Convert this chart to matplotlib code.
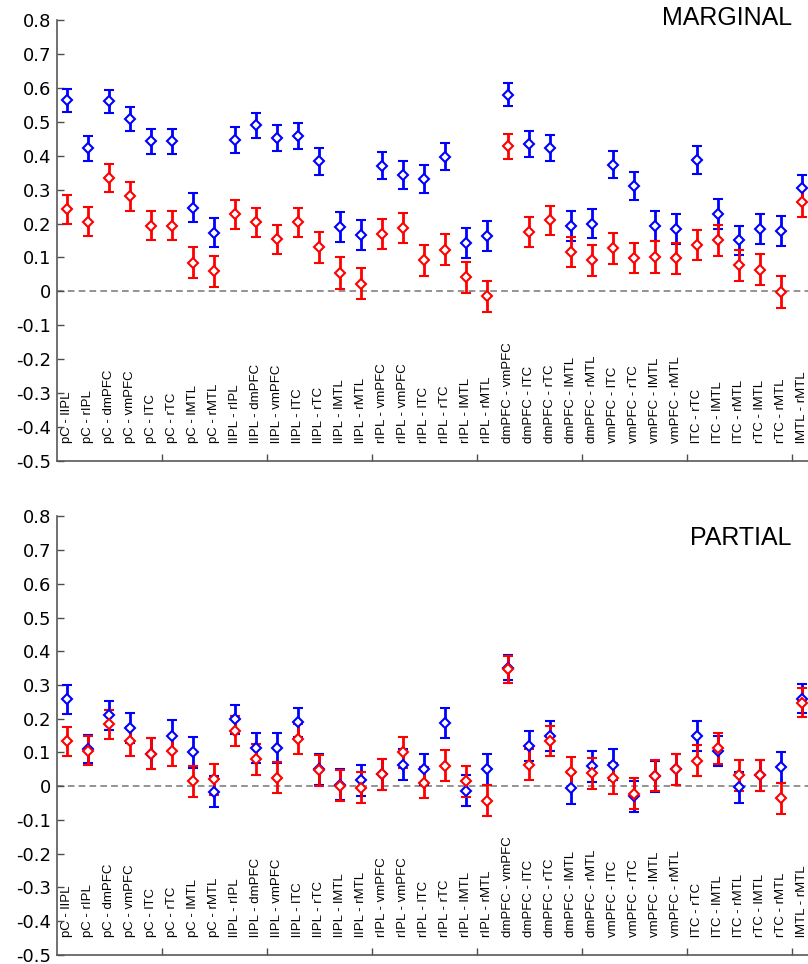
# marginal and partial connectivity estimates for 36 region pairs
import matplotlib

matplotlib.use('Agg')
import matplotlib.pyplot as plt

# pair labels
pairs = ['pC - lIPL', 'pC - rIPL', 'pC - dmPFC', 'pC - vmPFC', 'pC - lTC', 'pC - rTC',
         'pC - lMTL', 'pC - rMTL', 'lIPL - rIPL', 'lIPL - dmPFC', 'lIPL - vmPFC',
         'lIPL - lTC', 'lIPL - rTC', 'lIPL - lMTL', 'lIPL - rMTL', 'rIPL - vmPFC',
         'rIPL - vmPFC', 'rIPL - lTC', 'rIPL - rTC', 'rIPL - lMTL', 'rIPL - rMTL',
         'dmPFC - vmPFC', 'dmPFC - lTC', 'dmPFC - rTC', 'dmPFC - lMTL', 'dmPFC - rMTL',
         'vmPFC - lTC', 'vmPFC - rTC', 'vmPFC - lMTL', 'vmPFC - rMTL', 'lTC - rTC',
         'lTC - lMTL', 'lTC - rMTL', 'rTC - lMTL', 'rTC - rMTL', 'lMTL - rMTL']

# MARGINAL panel
marg_blue = [0.563, 0.422, 0.560, 0.507, 0.442, 0.442, 0.247, 0.173, 0.447, 0.489,
             0.451, 0.459, 0.384, 0.190, 0.165, 0.370, 0.343, 0.331, 0.397, 0.143,
             0.163, 0.580, 0.434, 0.423, 0.193, 0.200, 0.373, 0.310, 0.192, 0.184,
             0.387, 0.229, 0.150, 0.184, 0.178, 0.304]
marg_blue_err = [0.033, 0.037, 0.034, 0.035, 0.038, 0.038, 0.044, 0.042, 0.038, 0.036,
                 0.038, 0.038, 0.040, 0.044, 0.044, 0.040, 0.040, 0.040, 0.040, 0.044,
                 0.044, 0.034, 0.038, 0.038, 0.044, 0.044, 0.040, 0.042, 0.044, 0.044,
                 0.040, 0.044, 0.044, 0.044, 0.044, 0.040]
marg_red = [0.242, 0.205, 0.333, 0.280, 0.193, 0.193, 0.085, 0.059, 0.227, 0.204,
            0.153, 0.204, 0.130, 0.054, 0.022, 0.170, 0.188, 0.091, 0.123, 0.041,
            -0.015, 0.428, 0.176, 0.210, 0.116, 0.091, 0.127, 0.099, 0.101, 0.097,
            0.136, 0.150, 0.077, 0.064, -0.002, 0.262]
marg_red_err = [0.042, 0.043, 0.041, 0.042, 0.043, 0.043, 0.046, 0.046, 0.042, 0.043,
                0.044, 0.043, 0.045, 0.046, 0.046, 0.044, 0.044, 0.046, 0.045, 0.046,
                0.046, 0.037, 0.044, 0.043, 0.045, 0.046, 0.045, 0.045, 0.046, 0.046,
                0.045, 0.045, 0.046, 0.046, 0.046, 0.042]

# PARTIAL panel
part_blue = [0.258, 0.110, 0.211, 0.172, 0.097, 0.150, 0.100, -0.016, 0.199, 0.113,
             0.113, 0.189, 0.050, 0.005, 0.017, 0.035, 0.064, 0.051, 0.187, -0.013,
             0.051, 0.352, 0.120, 0.148, -0.006, 0.059, 0.063, -0.030, 0.030, 0.051,
             0.148, 0.105, -0.003, 0.033, 0.056, 0.260]
part_blue_err = [0.043, 0.042, 0.043, 0.044, 0.046, 0.045, 0.045, 0.046, 0.043, 0.044,
                 0.044, 0.044, 0.046, 0.046, 0.046, 0.046, 0.046, 0.046, 0.044, 0.046,
                 0.046, 0.038, 0.045, 0.044, 0.046, 0.046, 0.046, 0.046, 0.046, 0.046,
                 0.044, 0.045, 0.046, 0.046, 0.046, 0.042]
part_red = [0.133, 0.105, 0.183, 0.133, 0.097, 0.105, 0.014, 0.020, 0.163, 0.080,
            0.025, 0.140, 0.048, 0.002, -0.005, 0.036, 0.100, 0.010, 0.061, 0.014,
            -0.043, 0.347, 0.063, 0.135, 0.041, 0.039, 0.024, -0.023, 0.031, 0.051,
            0.076, 0.112, 0.033, 0.033, -0.036, 0.248]
part_red_err = [0.044, 0.043, 0.044, 0.044, 0.046, 0.045, 0.046, 0.046, 0.044, 0.046,
                0.046, 0.044, 0.046, 0.046, 0.046, 0.046, 0.046, 0.046, 0.046, 0.046,
                0.046, 0.040, 0.046, 0.044, 0.046, 0.046, 0.046, 0.046, 0.046, 0.046,
                0.046, 0.045, 0.046, 0.046, 0.046, 0.044]

LABEL_FONT = ['Liberation Sans Narrow', 'Liberation Sans', 'DejaVu Sans']


def draw_panel(ax, blue, blue_err, red, red_err):
    xs = [i + 0.5 for i in range(len(pairs))]
    ax.axhline(0, color='0.5', linestyle=(0, (4, 2.5)), linewidth=1.2, zorder=1)
    for vals, errs, col in [(blue, blue_err, 'blue'), (red, red_err, 'red')]:
        ax.errorbar(xs, vals, yerr=errs, fmt='D', color=col, markerfacecolor='white',
                    markeredgecolor=col, markersize=5, markeredgewidth=1.5,
                    elinewidth=2, capsize=3.5, capthick=2, zorder=3)
    # pair names written inside the axes
    for x, name in zip(xs, pairs):
        ax.text(x, -0.447, name, rotation=90, ha='center', va='bottom',
                fontsize=9.5, family=LABEL_FONT)
    ax.set_xlim(0, 36)
    ax.set_ylim(-0.5, 0.8)
    ax.set_xticks(range(5, 36, 5))
    ax.set_xticklabels([])
    yt = [round(-0.5 + 0.1 * k, 1) for k in range(14)]
    ax.set_yticks(yt)
    ax.set_yticklabels(['0' if v == 0 else str(v) for v in yt])
    ax.tick_params(direction='in', length=5, width=1, colors='0.3', labelcolor='black',
                   labelsize=13, pad=4)
    for s in ['top', 'right']:
        ax.spines[s].set_visible(False)
    for s in ['left', 'bottom']:
        ax.spines[s].set_color('0.35')
        ax.spines[s].set_linewidth(1.2)


fig = plt.figure(figsize=(8.08, 9.64), dpi=100)
ax1 = fig.add_axes([0.0705, 0.5218, 0.9356, 0.4575])
ax2 = fig.add_axes([0.0705, 0.0095, 0.9356, 0.4548])

draw_panel(ax1, marg_blue, marg_blue_err, marg_red, marg_red_err)
draw_panel(ax2, part_blue, part_blue_err, part_red, part_red_err)

fig.text(792 / 808, 1 - 18 / 964, 'MARGINAL', ha='right', va='center', fontsize=18,
         family='Liberation Sans')
fig.text(792 / 808, 1 - 538 / 964, 'PARTIAL', ha='right', va='center', fontsize=18,
         family='Liberation Sans')

fig.savefig('out.png', dpi=100)
